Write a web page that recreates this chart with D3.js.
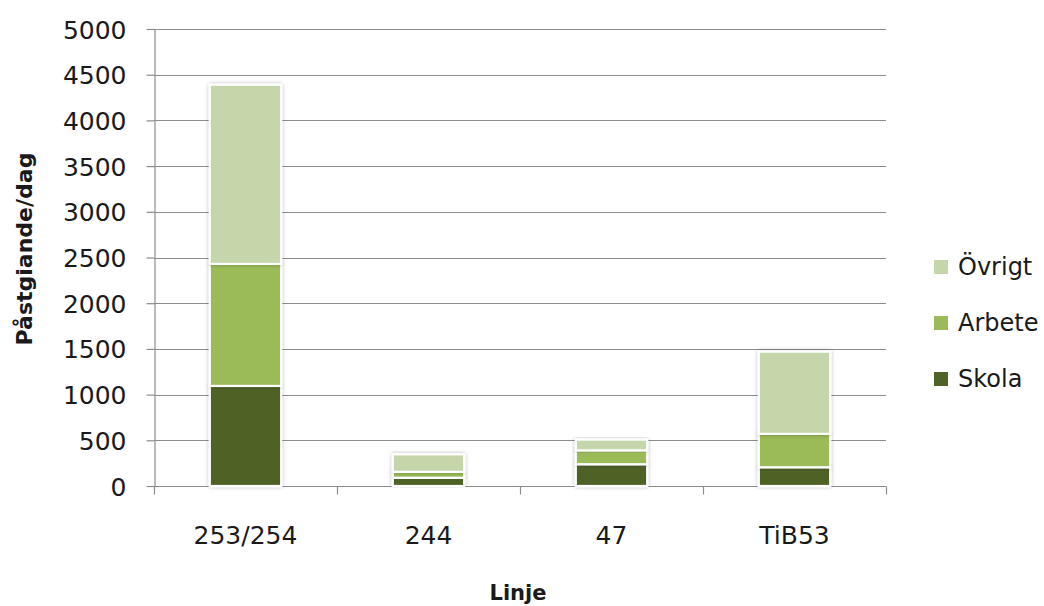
<!DOCTYPE html>
<html><head><meta charset="utf-8">
<script src="https://cdn.jsdelivr.net/npm/d3@7"></script>
<style>
html,body{margin:0;padding:0;background:#fff;}
text{font-family:"DejaVu Sans",sans-serif;fill:#1a1a1a;}
</style></head>
<body>
<svg id="chart" width="1044" height="606"></svg>
<script>
const categories = ["253/254", "244", "47", "TiB53"];
const seriesNames = ["Skola", "Arbete", "Övrigt"];
const skola  = [1095, 90, 238, 205];
const arbete = [1335, 65, 152, 365];
const ovrigt = [1960, 192, 118, 900];
const yTicks = [0, 500, 1000, 1500, 2000, 2500, 3000, 3500, 4000, 4500, 5000];
const colors = {"Skola": "#4f6228", "Arbete": "#9bbb59", "Övrigt": "#c5d6aa"};
const yTitle = "Påstgiande/dag";
const xTitle = "Linje";

const rows = categories.map((c, i) => ({cat: c, "Skola": skola[i], "Arbete": arbete[i], "Övrigt": ovrigt[i]}));
const stacked = d3.stack().keys(seriesNames)(rows);

const svg = d3.select("#chart");
const m = {left: 154, right: 886, top: 29, bottom: 486};

const x = d3.scaleBand().domain(categories).range([m.left, m.right]).paddingInner(0.61).paddingOuter(0.305);
const xb = d3.scaleBand().domain(categories).range([m.left, m.right]);
const y = d3.scaleLinear().domain([0, 5000]).range([m.bottom, m.top]);

const defs = svg.append("defs");
const f = defs.append("filter").attr("id", "sh").attr("x", "-20%").attr("y", "-20%").attr("width", "140%").attr("height", "140%");
f.append("feGaussianBlur").attr("in", "SourceAlpha").attr("stdDeviation", 2.2).attr("result", "b");
f.append("feComponentTransfer").attr("in", "b").attr("result", "b2")
  .append("feFuncA").attr("type", "linear").attr("slope", 0.28);
const mg = f.append("feMerge");
mg.append("feMergeNode").attr("in", "b2");
mg.append("feMergeNode").attr("in", "SourceGraphic");

// gridlines
svg.append("g").selectAll("line").data(yTicks.filter(d => d > 0)).join("line")
  .attr("x1", m.left).attr("x2", m.right)
  .attr("y1", d => Math.round(y(d)) + 0.5).attr("y2", d => Math.round(y(d)) + 0.5)
  .attr("stroke", "#8c8c8c").attr("stroke-width", 1.2);

// y axis
const yAxis = svg.append("g").attr("transform", `translate(${m.left + 0.5},0)`)
  .call(d3.axisLeft(y).tickValues(yTicks).tickFormat(d3.format("d")).tickSize(8).tickPadding(20).tickSizeOuter(0));
yAxis.select(".domain").attr("stroke", "#8c8c8c").attr("stroke-width", 1.2);
yAxis.selectAll(".tick line").attr("stroke", "#8c8c8c").attr("stroke-width", 1.2);
yAxis.selectAll(".tick text").attr("font-size", 25).attr("font-family", "DejaVu Sans").attr("fill", "#1a1a1a").attr("dy", "0.36em");

// x axis
const xAxisG = svg.append("g").attr("transform", `translate(0,${m.bottom + 0.5})`);
xAxisG.append("line").attr("x1", m.left).attr("x2", m.right).attr("stroke", "#8c8c8c").attr("stroke-width", 1.2);
const bounds = categories.map(c => xb(c)).concat([m.right]);
xAxisG.selectAll("line.tk").data(bounds).join("line").attr("class", "tk")
  .attr("x1", d => Math.round(d) + 0.5).attr("x2", d => Math.round(d) + 0.5)
  .attr("y1", 0).attr("y2", 8).attr("stroke", "#8c8c8c").attr("stroke-width", 1.2);
xAxisG.selectAll("text").data(categories).join("text")
  .attr("x", d => xb(d) + xb.bandwidth() / 2).attr("y", 57)
  .attr("text-anchor", "middle").attr("font-size", 25).text(d => d);

// bars
const barG = svg.append("g");
barG.selectAll("g").data(stacked).join("g")
  .attr("fill", d => colors[d.key])
  .selectAll("rect").data(d => d.map(v => ({v, cat: v.data.cat}))).join("rect")
  .attr("x", d => x(d.cat))
  .attr("width", x.bandwidth())
  .attr("y", d => y(d.v[1]))
  .attr("height", d => y(d.v[0]) - y(d.v[1]))
  .attr("stroke", "#ffffff").attr("stroke-width", 2.2)
  .attr("filter", "url(#sh)");

// axis titles
svg.append("text").attr("transform", `translate(32,249) rotate(-90)`)
  .attr("text-anchor", "middle").attr("font-size", 22).attr("font-weight", "bold").text(yTitle);
svg.append("text").attr("x", 518).attr("y", 600)
  .attr("text-anchor", "middle").attr("font-size", 21).attr("font-weight", "bold").text(xTitle);

// legend
const legendOrder = ["Övrigt", "Arbete", "Skola"];
const lg = svg.append("g").selectAll("g").data(legendOrder).join("g")
  .attr("transform", (d, i) => `translate(934,${260 + i * 56})`);
lg.append("rect").attr("x", 0).attr("y", 0).attr("width", 14).attr("height", 14).attr("fill", d => colors[d]);
lg.append("text").attr("x", 24).attr("y", 15).attr("font-size", 24).text(d => d);
</script>
</body></html>
